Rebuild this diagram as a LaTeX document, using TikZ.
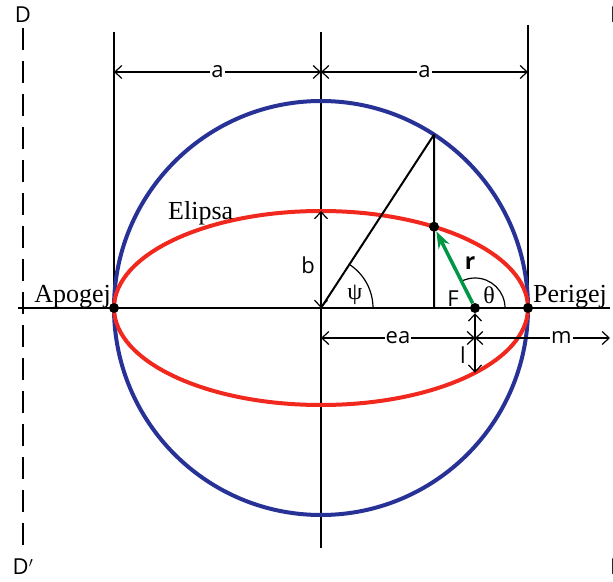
\documentclass[tikz,border=0pt]{standalone}
\usepackage{fontspec}
\setmainfont{Liberation Serif}
\newfontfamily\lblfont{Open Sans}
\usetikzlibrary{arrows.meta}
\definecolor{orbitblue}{RGB}{40,50,150}
\definecolor{orbitred}{RGB}{240,40,30}
\definecolor{radgreen}{RGB}{0,150,70}
\tikzset{
  dim/.style={line width=1.2pt,{Straight Barb[length=7pt,width=13pt]}-{Straight Barb[length=7pt,width=13pt]}},
  thinline/.style={line width=1.2pt},
  dot/.style={circle,fill=black,inner sep=0pt,minimum size=10pt},
  lbl/.style={font=\lblfont\fontsize{22}{24}\selectfont,inner sep=1pt},
  txt/.style={font=\fontsize{26}{30}\selectfont,inner sep=0pt},
}
\begin{document}
\begin{tikzpicture}[x=1pt,y=1pt]
          \useasboundingbox (-321,-273) rectangle (292,308);
          % Axes and directrix
          \draw[thinline] (-303,0) -- (289,0);
          \draw[thinline] (0,276) -- (0,-240);
          \draw[thinline] (-207,276) -- (-207,0);
          \draw[thinline] (207,283) -- (207,0);
          \draw[line width=2.5pt,dash pattern=on 22pt off 11pt] (-298,280) -- (-298,-237);

          % Circle and ellipse
          \coordinate (O) at (0,0);
          \draw[orbitblue,line width=4pt] (O) circle (207);
          \draw[orbitred,line width=4pt] (O) ellipse (207 and 97);

          % Nodes
          \node[dot] (apogee) at (-207,0) {};
          \node[dot] (perigee) at (207,0) {};
          \node[dot] (focus) at (154,0) {};
          \node[dot] (pt) at (113,81.3) {};
          \coordinate (top) at (56.9:207);
          \coordinate (foot) at (113,0);
          \coordinate (low) at (154,-64.8);
          \coordinate (btop) at (0,97);

          % Construction lines and angles
          \draw[line width=2pt] (O) -- (top);
          \draw[line width=2pt] (foot) -- (top);
          \draw[thinline] (52,0) arc (0:56.9:52);
          \draw[thinline] ([xshift=30pt]focus.center) arc (0:116.8:30);
          \draw[radgreen,line width=3.5pt,-{Stealth[length=17pt,width=12pt]}] (focus) -- (pt);

          % Dimensions
          \coordinate (aL) at (-207,236);
          \coordinate (aM) at (0,236);
          \coordinate (aR) at (207,236);
          \coordinate (eL) at (0,-30);
          \coordinate (eM) at (154,-30);
          \coordinate (eR) at (289,-30);
          \draw[dim] (aL) -- node[lbl,fill=white] (a1) {a} (aM);
          \draw[dim] (aM) -- node[lbl,fill=white] (a2) {a} (aR);
          \draw[dim] (eL) -- node[lbl,fill=white] (ea) {ea} (eM);
          \draw[dim] (eM) -- node[lbl,fill=white,pos=0.64] (m) {m} (eR);
          \draw[dim] (O) -- (btop);
          \draw[dim] (focus) -- (low);

          % Labels
          \node[lbl] (b) at (-13,43) {b};
          \node[lbl] (l) at (142,-47) {l};
          \node[lbl] (F) at (132,9) {F};
          \node[lbl,font=\lblfont\bfseries\fontsize{23}{24}\selectfont] (r) at (149,45) {r};
          \node[txt,font=\fontsize{24}{28}\selectfont] (theta) at (168,13) {θ};
          \node[txt,font=\fontsize{24}{28}\selectfont] (psi) at (34,13) {ψ};
          \node[txt,anchor=base east] (apo) at (-210,6) {Apogej};
          \node[txt,anchor=base west] (peri) at (212,6) {Perigej};
          \node[txt,anchor=base west] (elip) at (-153,88) {Elipsa};
          \node[lbl] (D1) at (-298,293) {D};
          \node[lbl] (D2) at (-298,-259) {D$'$};
          \node[lbl,anchor=west,inner sep=0pt] (D3) at (289,293) {D};
          \node[lbl,anchor=west,inner sep=0pt] (D4) at (289,-259) {D$'$};
        \end{tikzpicture}
\end{document}
